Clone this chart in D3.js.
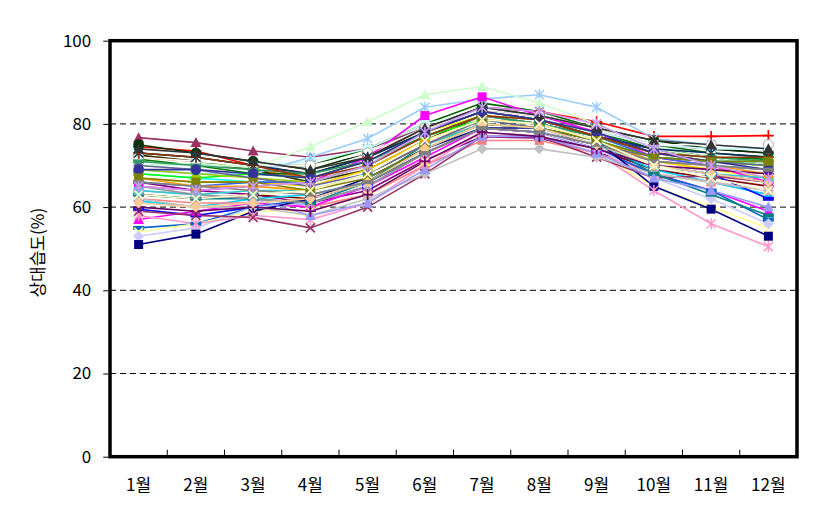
<!DOCTYPE html>
<html><head><meta charset="utf-8">
<script src="https://cdn.jsdelivr.net/npm/d3@7"></script>
<style>body{margin:0;background:#fff;} svg{display:block;}</style>
</head><body>
<svg id="c" width="822" height="515"></svg>
<script>
const months = ["1월","2월","3월","4월","5월","6월","7월","8월","9월","10월","11월","12월"];
const yTicks = [0,20,40,60,80,100];
const yTitle = "상대습도(%)";
const seriesColors = ["#993366","#FF0000","#003300","#006400","#FF6600","#008000","#333300","#CCFFFF","#99CCFF","#CCFFCC","#00FFFF","#FFFF00","#800080","#800000","#FF00FF","#00CCFF","#FF8080","#0000FF","#FF00FF","#0066CC","#FFFF99","#CCCCFF","#000080","#FF99CC","#993366","#C0C0C0","#008080","#FFFFFF","#9999FF","#00FF00","#FFCC00","#3366FF","#33CCCC","#99CC00","#FF9900","#666699","#969696","#003366","#339966","#993300","#333399","#333333","#660066","#808000","#FFCC99","#808080","#FFFFCC","#CC99FF"];
const seriesMarkers = ["triangle","plus","circle","x","triangle","star","diamond","square","star","triangle","star","x","circle","plus","square","diamond","square","dash","triangle","dash","x","diamond","square","star","x","diamond","dash","circle","triangle","dash","x","plus","circle","triangle","square","diamond","x","star","dash","plus","circle","triangle","plus","square","diamond","dash","x","star"];
const seriesValues = [
 [76.7,75.5,73.5,72,74,79,83,82,78,75,74,73],
 [74.5,73.5,70,68,72,79,84,83,80.5,77,77,77.2],
 [75,73,71,69,73,79,84,82,79,76,74,73],
 [73,72,70,70,74,80,85,83,79,75,73,72],
 [72,71,69,67,71,78,83,81,77,73,71,70],
 [71.5,70,68,68,72,78,83,81,78,74,72,71.5],
 [72.5,71,69,66,69,76,82,80,77,74,72,70],
 [70,70,70,71,74,80,83,81,78,75,74,74],
 [69,68,68,72,76.5,84,86,87,84,76.5,75,74],
 [70,70.5,69.5,74.5,80.5,87,89,85,80,74,72,70],
 [68,67,66,66,70,77,82,80,76,72,71,71],
 [65,64,65,66,70,78,82,80,76,71,69,67],
 [66,64,63,61,64,71.3,76.9,76.6,73,70,68,66],
 [63,62,63,62,66,73,79,78,74,69,67,65],
 [65,64,65,66,72,82,86.5,82,78,72,70,66],
 [61.5,60,62,63,66,74,80,79,75,69,66,63],
 [62,61,61,60,63,70,76,76,73,68,66,64],
 [59.5,58,60,61,65,73,79,78,75,70,68,62],
 [57,59,61,60,65,72,79,78,74,68,64,59],
 [55,56,60,62,66,73,79,78,74,68,64,57],
 [54,56,59,59,63,71,78,77,73,65,60,55],
 [53,55,60,61,65,73,79,78,74,67,62,56],
 [51,53.5,59,62,67,74,79,79,76,65,59.5,53],
 [58,56,58,57,61,70,78,77,73,64,56,50.5],
 [59,58,57.5,55,60,68,77,77,72,67,67.5,66],
 [62,60,60,58,62,68,74,74,72,68,66,64],
 [63,62,62,61,66,75,80,79,76,68,63,58],
 [72,71,70,70,73,79,83,82,79,75,75,75],
 [64,63,62,58,61,69,77,77,73,67,64,60],
 [68,67,68,67,71,77,81,80,76,72,71,70],
 [67,66,66,65,69,76,81,80,76,71,69,68],
 [66,65,66,66,70,77,82,80,77,72,70,69],
 [64,63,64,64,68,75,80,79,75,70,68,67],
 [69,68,67,66,70,77,82,81,77,73,71,70],
 [67,65,65,64,68,75,81,80,76,71,70,68],
 [70,69,67,65,68,75,81,79,75,72,71,70],
 [65,63,62,61,65,73,79,78,75,71,70,69],
 [73,72,70,68,72,78,83,81,77,74,73,72],
 [71,70,69,68,71,77,82,80,77,73,72,71],
 [73,72,70,67,70,77,82,81,77,73,72,72],
 [69,69,68,67,71,78,83,81,78,73,71,69],
 [74,73,71,69,72,79,84,82,79,76,75,74],
 [60,59,60,59,63,71,78,77,74,70,69,68],
 [67,66,66,64,67,74,80,79,76,72,71,71],
 [61,60,61,62,66,74,80,79,75,70,68,66],
 [66,65,64,63,66,73,79,78,75,71,70,69],
 [63,62,63,64,68,76,81,80,76,70,67,64],
 [65,64,65,66,70,78,84,83,80,74,70,67]
];

const svg = d3.select("#c");
const L = 110, R = 797, T = 40.7, B = 456.7;
const x = d3.scaleBand().domain(months).range([L, R]).padding(0);
const y = d3.scaleLinear().domain([0, 100]).range([B, T]);
const cx = m => x(m) + x.bandwidth() / 2;
const font = "'Noto Sans CJK KR', 'Noto Sans', sans-serif";

// gridlines
svg.append("g").selectAll("line").data(yTicks.filter(t => t > 0 && t < 100)).join("line")
  .attr("x1", L).attr("x2", R).attr("y1", d => y(d)).attr("y2", d => y(d))
  .attr("stroke", "#000").attr("stroke-width", 1).attr("stroke-dasharray", "6,4");

// series lines
const line = d3.line().x((d, i) => cx(months[i])).y(d => y(d));
const gS = svg.append("g");
seriesValues.forEach((vals, si) => {
  gS.append("path").datum(vals).attr("d", line).attr("fill", "none")
    .attr("stroke", seriesColors[si]).attr("stroke-width", 1.6);
});
function marker(g, type, color, px, py) {
  const s = 4.5;
  if (type === "diamond") g.append("path").attr("d", `M${px},${py-s-1}L${px+s+1},${py}L${px},${py+s+1}L${px-s-1},${py}Z`).attr("fill", color);
  else if (type === "square") g.append("rect").attr("x", px-s).attr("y", py-s).attr("width", 2*s).attr("height", 2*s).attr("fill", color);
  else if (type === "triangle") g.append("path").attr("d", `M${px},${py-s-1}L${px+s+1},${py+s}L${px-s-1},${py+s}Z`).attr("fill", color);
  else if (type === "circle") g.append("circle").attr("cx", px).attr("cy", py).attr("r", s+0.5).attr("fill", color).attr("stroke", color === "#FFFFFF" ? "#999" : color).attr("stroke-width", 0.8);
  else if (type === "dash") g.append("rect").attr("x", px-s-1).attr("y", py-2).attr("width", 2*s+2).attr("height", 4).attr("fill", color);
  else if (type === "x") g.append("path").attr("d", `M${px-s},${py-s}L${px+s},${py+s}M${px-s},${py+s}L${px+s},${py-s}`).attr("stroke", color).attr("stroke-width", 1.7);
  else if (type === "plus") g.append("path").attr("d", `M${px-s-1},${py}L${px+s+1},${py}M${px},${py-s-1}L${px},${py+s+1}`).attr("stroke", color).attr("stroke-width", 1.7);
  else if (type === "star") g.append("path").attr("d", `M${px-s},${py-s}L${px+s},${py+s}M${px-s},${py+s}L${px+s},${py-s}M${px},${py-s-1}L${px},${py+s+1}`).attr("stroke", color).attr("stroke-width", 1.5);
}
const gM = svg.append("g");
seriesValues.forEach((vals, si) => {
  vals.forEach((v, i) => marker(gM, seriesMarkers[si], seriesColors[si], cx(months[i]), y(v)));
});

// frame
svg.append("rect").attr("x", L).attr("y", T).attr("width", R - L).attr("height", B - T)
  .attr("fill", "none").attr("stroke", "#000").attr("stroke-width", 3.5);

// y axis ticks + labels
const yAxis = d3.axisLeft(y).tickValues(yTicks).tickSize(5).tickPadding(12);
const ga = svg.append("g").attr("transform", `translate(${L - 1.75},0)`).call(yAxis);
ga.select(".domain").remove();
ga.selectAll("line").attr("stroke", "#000");
ga.selectAll("text").attr("font-family", font).attr("font-size", 17).attr("fill", "#000");

// x ticks (inside, at category boundaries)
const bounds = months.slice(1).map(m => x(m));
svg.append("g").selectAll("line").data(bounds).join("line")
  .attr("x1", d => d).attr("x2", d => d).attr("y1", B - 1.75).attr("y2", B - 7)
  .attr("stroke", "#000").attr("stroke-width", 1);

// x labels
svg.append("g").selectAll("text").data(months).join("text")
  .attr("x", d => cx(d)).attr("y", 491).attr("text-anchor", "middle")
  .attr("font-family", font).attr("font-size", 17).attr("fill", "#000").text(d => d);

// y title
svg.append("text").attr("transform", `translate(44,${(T + B) / 2 + 4}) rotate(-90)`)
  .attr("text-anchor", "middle").attr("font-family", font).attr("font-size", 17)
  .attr("fill", "#000").text(yTitle);
</script>
</body></html>
